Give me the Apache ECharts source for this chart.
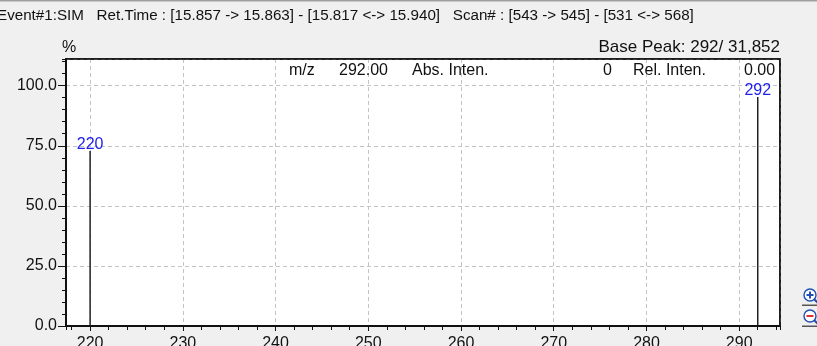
<!DOCTYPE html>
<html>
<head>
<meta charset="utf-8">
<script src="https://cdn.jsdelivr.net/npm/echarts@6/dist/echarts.min.js"></script>
<style>
  html, body { margin: 0; padding: 0; background: #f0f0f0; }
  #chart { width: 817px; height: 346px; }
</style>
</head>
<body>
<div id="chart"></div>
<script>
// SIM spectrum: m/z peaks and their relative intensities (%)
const mzValues = [220, 292];
const relIntensity = [72.8, 95.3];
const peakLabels = ['220', '292'];

// axis ranges and tick steps
const mzRange = [217.4, 294.4];
const relRange = [0, 111.1];
const yMajorStep = 25;
const yMinorStep = 5;

// header texts
const titleText = 'Event#1:SIM   Ret.Time : [15.857 -> 15.863] - [15.817 <-> 15.940]   Scan# : [543 -> 545] - [531 <-> 568]';
const basePeakText = 'Base Peak: 292/ 31,852';
const cursorRow = [
  { text: 'm/z', x: 289 },
  { text: '292.00', x: 339 },
  { text: 'Abs. Inten.', x: 412 },
  { text: '0', x: 603 },
  { text: 'Rel. Inten.', x: 633 },
  { text: '0.00', x: 744 }
];

const FONT = '"Liberation Sans", Arial, sans-serif';
const chart = echarts.init(document.getElementById('chart'), null, { renderer: 'canvas' });

const peaks = mzValues.map((mz, i) => ({ value: [mz, relIntensity[i]], name: peakLabels[i] }));

const graphics = [
  { type: 'rect', shape: { x: 0, y: 0, width: 817, height: 1.5 }, style: { fill: '#a0a0a0' }, silent: true },
  { type: 'text', x: -3, y: 16, style: { text: titleText, font: '15.2px ' + FONT, fill: '#111', textVerticalAlign: 'middle' } },
  { type: 'text', x: 62, y: 48, style: { text: '%', font: '16px ' + FONT, fill: '#111', textVerticalAlign: 'middle' } },
  { type: 'text', x: 780, y: 47, style: { text: basePeakText, font: '17px ' + FONT, fill: '#111', textAlign: 'right', textVerticalAlign: 'middle' } },
  // plot frame drawn above the grid lines
  { type: 'rect', z: 20, silent: true, shape: { x: 66, y: 59, width: 714, height: 267 }, style: { fill: 'none', stroke: '#111', lineWidth: 1.5 } }
].concat(cursorRow.map(c => ({
  type: 'text', x: c.x, y: 71, z: 10,
  style: { text: c.text, font: '16px ' + FONT, fill: '#111', textVerticalAlign: 'middle' }
})));

// zoom-in / zoom-out buttons at the right edge
function zoomIcon(y, sign, color) {
  const items = [
    { type: 'circle', shape: { cx: 810, cy: y, r: 6 }, style: { fill: '#fff', stroke: '#1f4fb0', lineWidth: 1.4 } },
    { type: 'line', shape: { x1: 814, y1: y + 4, x2: 818, y2: y + 8 }, style: { stroke: '#1f4fb0', lineWidth: 2 } },
    { type: 'rect', shape: { x: 802, y: y + 9.5, width: 15, height: 1.5 }, style: { fill: '#555' } },
    { type: 'line', shape: { x1: 806.5, y1: y, x2: 813.5, y2: y }, style: { stroke: color, lineWidth: 2 } }
  ];
  if (sign === '+') items.push({ type: 'line', shape: { x1: 810, y1: y - 3.5, x2: 810, y2: y + 3.5 }, style: { stroke: color, lineWidth: 2 } });
  return items;
}
const icons = zoomIcon(295, '+', '#1f4fb0').concat(zoomIcon(316, '-', '#e03030'));

const axisLabelStyle = { color: '#111', fontSize: 16, fontFamily: FONT };
const dashed = { show: true, lineStyle: { color: '#c4c4c4', type: [4, 3], width: 1 } };

const option = {
  animation: false,
  backgroundColor: '#f0f0f0',
  grid: {
    left: 66, top: 59, right: 37, bottom: 20,
    outerBoundsMode: 'none', containLabel: false,
    show: true, backgroundColor: '#ffffff', borderColor: '#111', borderWidth: 1.5
  },
  xAxis: [
    {
      type: 'value', min: mzRange[0], max: mzRange[1], splitNumber: 8,
      axisLine: { show: true, onZero: false, lineStyle: { color: '#111', width: 2 } },
      axisTick: { show: true, length: 5, lineStyle: { color: '#111', width: 1 } },
      axisLabel: { ...axisLabelStyle, margin: 10, showMinLabel: false, showMaxLabel: false },
      splitLine: dashed
    },
    {
      type: 'value', min: mzRange[0], max: mzRange[1], splitNumber: 38, position: 'bottom',
      axisLine: { show: false },
      axisTick: { show: true, length: 4, lineStyle: { color: '#111', width: 1 } },
      axisLabel: { show: false },
      splitLine: { show: false }
    }
  ],
  yAxis: [
    {
      type: 'value', min: relRange[0], max: relRange[1], interval: yMajorStep,
      axisLine: { show: true, onZero: false, lineStyle: { color: '#111', width: 2 } },
      axisTick: { show: true, length: 8, lineStyle: { color: '#111', width: 1 } },
      axisLabel: { ...axisLabelStyle, margin: 9, showMaxLabel: false, formatter: v => v.toFixed(1) },
      splitLine: dashed
    },
    {
      type: 'value', min: relRange[0], max: relRange[1], interval: yMinorStep, position: 'left',
      axisLine: { show: false },
      axisTick: { show: true, length: 4, lineStyle: { color: '#111', width: 1 } },
      axisLabel: { show: false },
      splitLine: { show: false }
    }
  ],
  series: [{
    type: 'bar',
    xAxisIndex: 0, yAxisIndex: 0,
    barWidth: 1.5,
    itemStyle: { color: '#222' },
    data: peaks,
    label: {
      show: true, position: 'top', distance: -2,
      formatter: p => p.name,
      color: '#2020f0', fontSize: 16, fontFamily: FONT
    }
  }],
  graphic: graphics.concat(icons)
};

chart.setOption(option);
</script>
</body>
</html>
